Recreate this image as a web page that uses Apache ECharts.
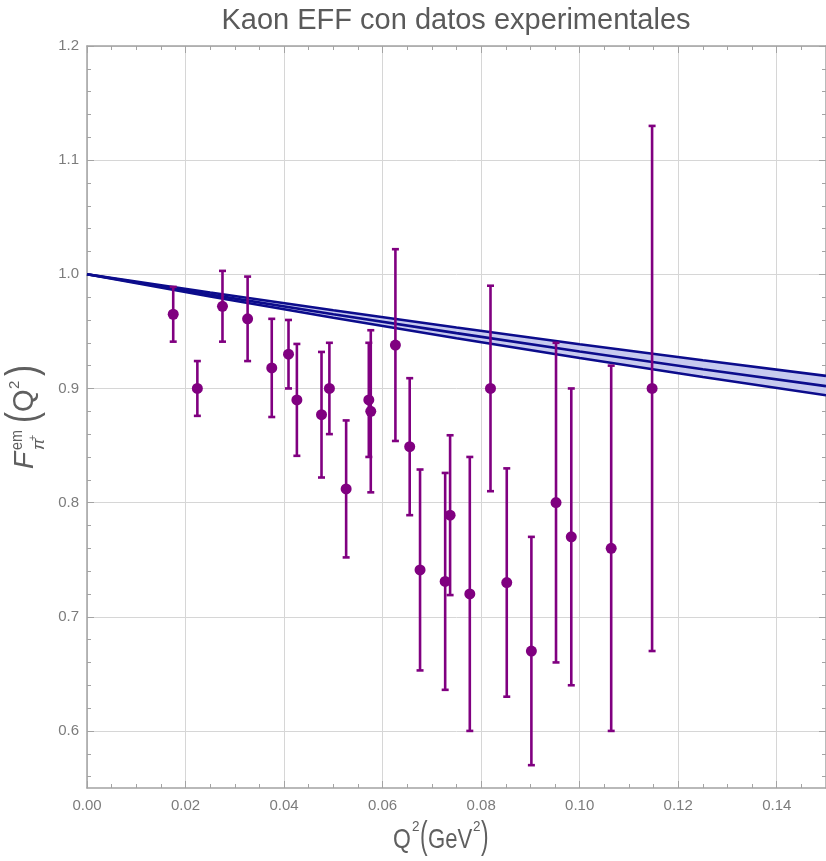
<!DOCTYPE html>
<html>
<head>
<meta charset="utf-8">
<title>Kaon EFF</title>
<script src="https://cdn.jsdelivr.net/npm/echarts@6/dist/echarts.min.js"></script>
<style>
  html, body { margin: 0; padding: 0; background: #fff; }
  #chart { width: 826px; height: 861px; }
</style>
</head>
<body>
<div id="chart"></div>
<script>
// datos experimentales: Q^2, F(Q^2), error
var q2Data = [0.0175, 0.0224, 0.0275, 0.0326, 0.0375, 0.0409, 0.0426, 0.0476, 0.0492, 0.0526,
              0.0572, 0.0576, 0.0626, 0.0655, 0.0676, 0.0727, 0.0737, 0.0777, 0.0819, 0.0852,
              0.0902, 0.0952, 0.0983, 0.1064, 0.1147];
var ffData = [0.965, 0.900, 0.972, 0.961, 0.918, 0.930, 0.890, 0.877, 0.900, 0.812,
              0.890, 0.880, 0.938, 0.849, 0.741, 0.731, 0.789, 0.720, 0.900, 0.730,
              0.670, 0.800, 0.770, 0.760, 0.900];
var ffErr = [0.024, 0.024, 0.031, 0.037, 0.043, 0.030, 0.049, 0.055, 0.040, 0.060,
             0.050, 0.071, 0.084, 0.060, 0.088, 0.095, 0.070, 0.120, 0.090, 0.100,
             0.100, 0.140, 0.130, 0.160, 0.230];

// banda teorica
var bandQ2 = [0, 0.025, 0.05, 0.075, 0.10, 0.125, 0.15];
var bandUpper = [1.0, 0.9840, 0.9685, 0.9534, 0.9388, 0.9247, 0.9110];
var bandCentral = [1.0, 0.9822, 0.9650, 0.9485, 0.9324, 0.9169, 0.9020];
var bandLower = [1.0, 0.9806, 0.9620, 0.9440, 0.9267, 0.9101, 0.8940];

// marcas de los ejes
var yTickValues = [0.6, 0.7, 0.8, 0.9, 1.0, 1.1, 1.2];

var purple = '#800080';
var navy = '#0c0c8c';
var fontFam = "'Liberation Sans', Arial, sans-serif";
var tickFont = { color: '#7c7c7c', fontSize: 15, fontFamily: fontFam };
var labelColor = '#5f5f5f';
var frameColor = '#a3a3a3';

var chart = echarts.init(document.getElementById('chart'));

function pairs(xs, ys) {
    return xs.map(function (x, i) { return [x, ys[i]]; });
}

/*barras de error*/
var errorItems = q2Data.map(function (q, i) { return [q, ffData[i], ffErr[i]]; });
var renderError = function (params, api) {
    var x = api.value(0), y = api.value(1), e = api.value(2);
    var top = api.coord([x, y + e]);
    var bot = api.coord([x, y - e]);
    var cap = 3.5;
    var st = { stroke: purple, lineWidth: 2.6 };
    return {
        type: 'group',
        children: [
            { type: 'line', shape: { x1: top[0], y1: top[1], x2: bot[0], y2: bot[1] }, style: st },
            { type: 'line', shape: { x1: top[0] - cap, y1: top[1], x2: top[0] + cap, y2: top[1] }, style: st },
            { type: 'line', shape: { x1: bot[0] - cap, y1: bot[1], x2: bot[0] + cap, y2: bot[1] }, style: st }
        ]
    };
};

/*relleno de la banda*/
var renderBand = function (params, api) {
    if (params.dataIndex !== 0) return null;
    var pts = [];
    for (var i = 0; i < bandQ2.length; i++) pts.push(api.coord([bandQ2[i], bandUpper[i]]));
    for (var j = bandQ2.length - 1; j >= 0; j--) pts.push(api.coord([bandQ2[j], bandLower[j]]));
    return { type: 'polygon', shape: { points: pts }, style: { fill: '#c7caef' } };
};

var xAxisBase = {
    type: 'value', min: 0, max: 0.15, interval: 0.02,
    axisLine: { show: true, onZero: false, lineStyle: { color: frameColor, width: 1.5 } },
    axisTick: { show: true, inside: true, length: 7, lineStyle: { color: frameColor } },
    minorTick: { show: true, splitNumber: 4, length: 4, lineStyle: { color: frameColor } }
};
var yAxisBase = {
    type: 'value', min: 0.55, max: 1.2,
    axisLine: { show: true, onZero: false, lineStyle: { color: frameColor, width: 1.5 } },
    axisTick: { show: true, inside: true, length: 7, customValues: yTickValues, lineStyle: { color: frameColor } },
    minorTick: { show: true, splitNumber: 5, length: 4, lineStyle: { color: frameColor } }
};

function piece(text, x, y, font, sx) {
    return { type: 'text', x: x, y: y, scaleX: sx || 1,
             style: { text: text, font: font, fill: labelColor, align: 'left', verticalAlign: 'middle' } };
}

var yTitle = {
    type: 'group', x: 0, y: 417, rotation: Math.PI / 2, silent: true,
    children: [
        piece('F', -52, 25, 'italic 28px ' + fontFam),
        piece('em', -33, 18, '16px ' + fontFam, 0.9),
        piece('π', -33, 39, 'italic 17px ' + fontFam),
        piece('+', -24, 33, '11px ' + fontFam),
        piece('(', -6, 24, '44px ' + fontFam, 0.75),
        piece('Q', 5, 25, '29px ' + fontFam),
        piece('2', 28, 15, '15px ' + fontFam),
        piece(')', 41, 24, '44px ' + fontFam, 0.75)
    ]
};

var xTitle = {
    type: 'group', x: 0, y: 0, silent: true,
    children: [
        piece('Q', 393, 840, '28px ' + fontFam, 0.82),
        piece('2', 412, 827, '15px ' + fontFam, 0.9),
        piece('(', 420, 838, '38px ' + fontFam, 0.6),
        piece('GeV', 428, 840, '28px ' + fontFam, 0.79),
        piece('2', 473, 827, '15px ' + fontFam, 0.9),
        piece(')', 481, 838, '38px ' + fontFam, 0.6)
    ]
};

var option = {
    backgroundColor: '#ffffff',
    animation: false,
    grid: { left: 87, right: -2, top: 46, bottom: 73, containLabel: false },
    graphic: [
        { type: 'text', x: 456, y: 21, silent: true,
          style: { text: 'Kaon EFF con datos experimentales', font: '29px ' + fontFam,
                   fill: '#5a5a5a', align: 'center', verticalAlign: 'middle' } },
        yTitle,
        xTitle
    ],
    xAxis: [
        Object.assign({}, xAxisBase, {
            position: 'bottom',
            axisLabel: Object.assign({ show: true, margin: 10, showMaxLabel: false,
                formatter: function (v) { return v.toFixed(2); } }, tickFont),
            splitLine: { show: true, lineStyle: { color: '#d6d6d6', width: 1 } }
        }),
        Object.assign({}, xAxisBase, {
            position: 'top',
            axisLabel: { show: false },
            splitLine: { show: false }
        })
    ],
    yAxis: [
        Object.assign({}, yAxisBase, {
            position: 'left',
            axisLabel: Object.assign({ show: true, margin: 8, customValues: yTickValues,
                formatter: function (v) { return v.toFixed(1); } }, tickFont),
            splitLine: { show: true, lineStyle: { color: '#d6d6d6', width: 1 } }
        }),
        Object.assign({}, yAxisBase, {
            position: 'right',
            axisLabel: { show: false },
            splitLine: { show: false }
        })
    ],
    series: [
        {
            name: 'relleno', type: 'custom', renderItem: renderBand,
            data: pairs(bandQ2, bandCentral), encode: { x: 0, y: 1 }, clip: true, z: 2, silent: true
        },
        {
            name: 'superior', type: 'line', data: pairs(bandQ2, bandUpper), symbol: 'none',
            lineStyle: { color: navy, width: 2.6 }, z: 3, silent: true
        },
        {
            name: 'central', type: 'line', data: pairs(bandQ2, bandCentral), symbol: 'none',
            lineStyle: { color: navy, width: 2.6 }, z: 3, silent: true
        },
        {
            name: 'inferior', type: 'line', data: pairs(bandQ2, bandLower), symbol: 'none',
            lineStyle: { color: navy, width: 2.6 }, z: 3, silent: true
        },
        {
            name: 'errores', type: 'custom', renderItem: renderError, data: errorItems,
            encode: { x: 0, y: 1 }, z: 4, silent: true
        },
        {
            name: 'datos', type: 'scatter', data: pairs(q2Data, ffData),
            symbol: 'circle', symbolSize: 11, itemStyle: { color: purple, opacity: 1 }, z: 5, silent: true
        }
    ]
};

chart.setOption(option);
</script>
</body>
</html>
